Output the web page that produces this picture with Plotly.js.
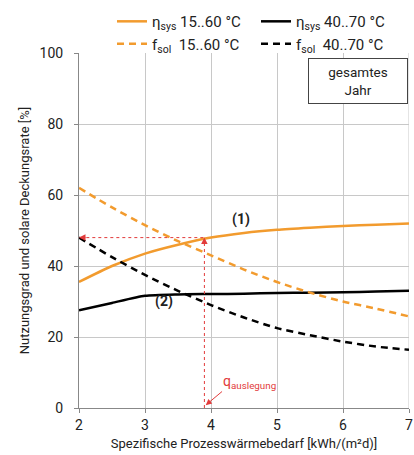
<!DOCTYPE html>
<html>
<head>
<meta charset="utf-8">
<script src="https://cdn.plot.ly/plotly-3.0.1.min.js"></script>
<style>html,body{margin:0;padding:0;background:#fff;}#chart{width:414px;height:455px;}</style>
</head>
<body>
<div id="chart"></div>
<script>
const xValues = [2, 2.5, 3, 3.5, 4, 4.5, 5, 5.5, 6, 6.5, 7];
const etaSys1560 = [35.5, 40, 43.5, 46, 48, 49.3, 50.2, 50.8, 51.3, 51.6, 52];
const fSol1560 = [62, 56.5, 51.5, 47, 43, 39, 35.5, 32.5, 30, 28, 25.8];
const etaSys4070 = [27.5, 29.6, 31.6, 32, 32.1, 32.2, 32.4, 32.5, 32.6, 32.8, 33];
const fSol4070 = [48, 42.5, 37.5, 33, 29, 25.5, 22.5, 20.5, 18.7, 17.3, 16.4];
const seriesNames = ['η<sub>sys</sub> 15..60 °C', 'η<sub>sys</sub> 40..70 °C', 'f<sub>sol</sub>  15..60 °C', 'f<sub>sol</sub>  40..70 °C'];
const xTicks = [2, 3, 4, 5, 6, 7];
const yTicks = [0, 20, 40, 60, 80, 100];
const designLoad = 3.9;
const designEta = 48;

const FONT = 'Roboto, "DejaVu Sans Condensed", sans-serif';
const ORANGE = '#F29B2E';
const RED = '#E23B3B';
const TXT = '#222';

const traces = [
  {x: xValues, y: etaSys1560, name: seriesNames[0], mode: 'lines', line: {color: ORANGE, width: 2.5, shape: 'spline', smoothing: 0.7}},
  {x: xValues, y: etaSys4070, name: seriesNames[1], mode: 'lines', line: {color: '#000', width: 2.5, shape: 'spline', smoothing: 0.6}},
  {x: xValues, y: fSol1560, name: seriesNames[2], mode: 'lines', line: {color: ORANGE, width: 2.5, dash: '7px,5px', shape: 'spline', smoothing: 0.7}},
  {x: xValues, y: fSol4070, name: seriesNames[3], mode: 'lines', line: {color: '#000', width: 2.5, dash: '7px,5px', shape: 'spline', smoothing: 0.7}}
];

const layout = {
  width: 414, height: 455,
  margin: {l: 79, r: 5, t: 50, b: 47},
  paper_bgcolor: '#fff', plot_bgcolor: '#fff',
  font: {family: FONT, size: 13, color: TXT},
  showlegend: true,
  legend: {
    orientation: 'h', x: 0.1, xanchor: 'left', y: 1.135, yanchor: 'top',
    entrywidth: 99, entrywidthmode: 'pixels', itemwidth: 30,
    font: {family: FONT, size: 15, color: TXT}, tracegroupgap: 0,
    bgcolor: 'rgba(0,0,0,0)'
  },
  xaxis: {
    range: [2, 7], tickvals: xTicks, ticktext: xTicks.map(String),
    showgrid: true, gridcolor: '#c8c8c8', gridwidth: 1,
    showline: true, linecolor: '#888', linewidth: 1,
    ticks: 'outside', ticklen: 4, tickcolor: '#888', ticklabeloverflow: 'allow',
    zeroline: false, tickfont: {size: 14, family: FONT, color: TXT},
    title: {text: 'Spezifische Prozesswärmebedarf [kWh/(m²d)]', font: {size: 13, family: FONT, color: TXT}, standoff: 7}
  },
  yaxis: {
    range: [0, 100], tickvals: yTicks, ticktext: yTicks.map(String),
    showgrid: true, gridcolor: '#c8c8c8', gridwidth: 1,
    showline: true, linecolor: '#888', linewidth: 1,
    ticks: 'outside', ticklen: 4, tickcolor: '#888', ticklabelstandoff: 8,
    zeroline: false, tickfont: {size: 14, family: FONT, color: TXT},
    title: {text: 'Nutzungsgrad und solare Deckungsrate [%]', font: {size: 13, family: FONT, color: TXT}, standoff: 7}
  },
  shapes: [
    {type: 'line', xref: 'x', yref: 'y', x0: xTicks[xTicks.length - 1], x1: xTicks[xTicks.length - 1], y0: 0, y1: 100, line: {color: '#c8c8c8', width: 1}, layer: 'below'},
    {type: 'line', xref: 'x', yref: 'y', x0: 2.02, x1: designLoad, y0: designEta, y1: designEta, line: {color: RED, width: 1, dash: 'dot'}},
    {type: 'line', xref: 'x', yref: 'y', x0: designLoad, x1: designLoad, y0: 0, y1: designEta - 1, line: {color: RED, width: 1, dash: 'dot'}}
  ],
  annotations: [
    {x: 2, y: designEta, xref: 'x', yref: 'y', ax: 8, ay: 0, text: '', showarrow: true, arrowhead: 2, arrowsize: 1.3, arrowwidth: 1, arrowcolor: RED},
    {x: designLoad, y: designEta, xref: 'x', yref: 'y', ax: 0, ay: 8, text: '', showarrow: true, arrowhead: 2, arrowsize: 1.3, arrowwidth: 1, arrowcolor: RED},
    {x: designLoad + 0.02, y: 0.8, xref: 'x', yref: 'y', ax: 4.19, ay: 5, axref: 'x', ayref: 'y', text: '', showarrow: true, arrowhead: 2, arrowsize: 1.2, arrowwidth: 1, arrowcolor: RED},
    {x: 4.15, y: 7.3, xref: 'x', yref: 'y', xanchor: 'left', yanchor: 'middle', text: 'q<sub>auslegung</sub>', showarrow: false, font: {color: RED, size: 14, family: FONT}},
    {x: 4.45, y: 53, xref: 'x', yref: 'y', text: '<b>(1)</b>', showarrow: false, font: {size: 14, family: FONT, color: TXT}},
    {x: 3.29, y: 30, xref: 'x', yref: 'y', text: '<b>(2)</b>', showarrow: false, font: {size: 14, family: FONT, color: TXT}},
    {x: 0.845, y: 0.92, xref: 'paper', yref: 'paper', xanchor: 'center', yanchor: 'middle', text: 'gesamtes<br>Jahr', showarrow: false,
     width: 96, height: 42, bgcolor: '#fff', bordercolor: '#444', borderwidth: 1, borderpad: 1,
     font: {size: 13.5, family: FONT, color: TXT}}
  ]
};

Plotly.newPlot('chart', traces, layout, {displayModeBar: false, staticPlot: true});
</script>
</body>
</html>
